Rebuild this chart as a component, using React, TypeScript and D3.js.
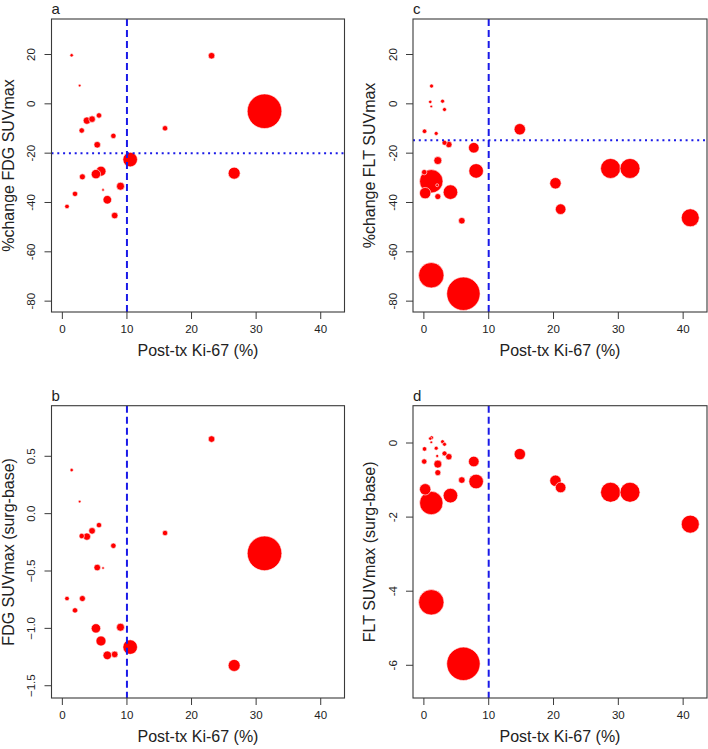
import React from "react";
import * as d3 from "d3";

// ---- FDG data (panels a, b) ----
const ki67Fdg = [1.44, 2.68, 23.1, 31.3, 15.9, 5.67, 3.8, 4.6, 3.0, 7.9, 5.4, 10.5, 26.6, 5.98, 5.2, 3.1, 6.3, 9.0, 1.96, 6.96, 0.72, 8.1];
const fdgPctChange = [19.7, 7.4, 19.5, -3.0, -9.9, -4.7, -6.8, -6.2, -10.8, -13.0, -16.6, -22.6, -28.1, -27.3, -28.5, -29.6, -34.9, -33.4, -36.5, -38.9, -41.6, -45.3];
const fdgSurgBase = [0.38, 0.105, 0.65, -0.346, -0.169, -0.10, -0.20, -0.15, -0.195, -0.28, -0.47, -1.163, -1.323, -1.11, -1.0, -0.74, -0.474, -0.99, -0.843, -1.235, -0.74, -1.227];
const fdgSize = [1.7, 1.3, 3.3, 17.3, 2.7, 2.7, 3.7, 3.3, 2.7, 2.7, 3.3, 7.3, 6.0, 5.0, 4.7, 3.0, 1.3, 4.0, 2.7, 4.3, 2.3, 3.3];

// ---- FLT data (panels c, d) ----
const ki67Flt = [1.18, 0.98, 1.14, 2.88, 3.18, 0.1, 1.9, 14.8, 3.18, 3.85, 7.7, 2.15, 8.06, 0.05, 1.14, 2.05, 0.2, 2.15, 4.1, 5.85, 20.3, 21.1, 28.8, 31.8, 41.1, 1.14, 6.1];
const fltPctChange = [7.2, 0.8, -1.07, 1.08, -2.3, -11.1, -12.0, -10.3, -15.8, -16.5, -17.8, -23.0, -27.2, -27.7, -31.4, -33.0, -36.2, -37.6, -35.8, -47.4, -32.2, -42.7, -26.2, -26.2, -46.2, -69.5, -77.0];
const fltSurgBase = [0.143, 0.12, 0.02, 0.035, -0.035, -0.16, -0.14, -0.3, -0.28, -0.37, -0.5, -0.57, -1.04, -0.5, -1.62, -0.35, -1.25, -0.8, -1.42, -1.0, -1.02, -1.2, -1.33, -1.33, -2.19, -4.3, -5.96];
const fltSize = [2.0, 1.7, 1.3, 2.0, 2.0, 2.3, 2.0, 5.7, 2.5, 3.2, 5.3, 4.0, 7.3, 2.7, 11.7, 1.5, 5.7, 3.0, 7.3, 3.3, 5.7, 5.3, 10, 10, 9, 12.7, 16.7];

// ---- ticks / labels ----
const xTicks = [0, 10, 20, 30, 40];
const pctTicks = [-80, -60, -40, -20, 0, 20];
const fdgDiffTicks = [-1.5, -1.0, -0.5, 0.0, 0.5];
const fltDiffTicks = [-6, -4, -2, 0];
const xLabel = "Post-tx Ki-67 (%)";
const ki67Cutoff = 10;
const fdgPctCutoff = -20;
const fltPctCutoff = -14.8;

const FONT = "'Liberation Sans', Arial, sans-serif";
const RED = "#ff0000";
const BLUE = "#1a1ae8";
const AXIS = "#3a3a3a";

type Panel = {
  letter: string;
  x0: number; x1: number; y0: number; y1: number;
  xs: number[]; ys: number[]; sizes: number[];
  yDomain: [number, number];
  yTicks: number[];
  yFmt: (v: number) => string;
  yLabel: string;
  hLine?: number;
};

const intFmt = (v: number) => String(v);
const oneFmt = d3.format(".1f");

const panels: Panel[] = [
  { letter: "a", x0: 51.5, x1: 344.5, y0: 19, y1: 312, xs: ki67Fdg, ys: fdgPctChange, sizes: fdgSize,
    yDomain: [-84.4, 34.4], yTicks: pctTicks, yFmt: intFmt, yLabel: "%change FDG SUVmax", hLine: fdgPctCutoff },
  { letter: "b", x0: 51.5, x1: 344.5, y0: 405.7, y1: 698, xs: ki67Fdg, ys: fdgSurgBase, sizes: fdgSize,
    yDomain: [-1.607, 0.941], yTicks: fdgDiffTicks, yFmt: (v) => oneFmt(v), yLabel: "FDG SUVmax (surg-base)" },
  { letter: "c", x0: 413, x1: 707, y0: 19, y1: 312, xs: ki67Flt, ys: fltPctChange, sizes: fltSize,
    yDomain: [-84.4, 34.4], yTicks: pctTicks, yFmt: intFmt, yLabel: "%change FLT SUVmax", hLine: fltPctCutoff },
  { letter: "d", x0: 413, x1: 707, y0: 405.7, y1: 698, xs: ki67Flt, ys: fltSurgBase, sizes: fltSize,
    yDomain: [-6.883, 1.007], yTicks: fltDiffTicks, yFmt: intFmt, yLabel: "FLT SUVmax (surg-base)" },
];

const rScale = d3.scaleLinear().domain([0, 1]).range([0, 1]);

function PanelView({ p }: { p: Panel }) {
  const x = d3.scaleLinear().domain([-1.68, 43.68]).range([p.x0, p.x1]);
  const y = d3.scaleLinear().domain(p.yDomain).range([p.y1, p.y0]);
  const pts = p.xs.map((xv, i) => ({ x: xv, y: p.ys[i], s: p.sizes[i] }));
  const order = d3.range(pts.length).sort((a, b) => pts[b].s - pts[a].s);
  const cx = (p.x0 + p.x1) / 2;
  const cy = (p.y0 + p.y1) / 2;
  return (
    <g>
      <defs>
        <clipPath id={`clip-${p.letter}`}>
          <rect x={p.x0} y={p.y0} width={p.x1 - p.x0} height={p.y1 - p.y0} />
        </clipPath>
      </defs>
      <g clipPath={`url(#clip-${p.letter})`}>
        {order.map((i) => (
          <circle key={i} cx={x(pts[i].x)} cy={y(pts[i].y)} r={rScale(pts[i].s)}
            fill={RED} stroke="#ffffff" strokeWidth={0.6} />
        ))}
        <line x1={x(ki67Cutoff)} x2={x(ki67Cutoff)} y1={p.y0} y2={p.y1}
          stroke={BLUE} strokeWidth={2} strokeDasharray="7,4" />
        {p.hLine !== undefined && (
          <line x1={p.x0} x2={p.x1} y1={y(p.hLine)} y2={y(p.hLine)}
            stroke={BLUE} strokeWidth={2} strokeDasharray="2,3.8" />
        )}
      </g>
      <rect x={p.x0} y={p.y0} width={p.x1 - p.x0} height={p.y1 - p.y0}
        fill="none" stroke={AXIS} strokeWidth={1.1} />
      {xTicks.map((t) => (
        <g key={`x${t}`}>
          <line x1={x(t)} x2={x(t)} y1={p.y1} y2={p.y1 + 7} stroke={AXIS} strokeWidth={1} />
          <text x={x(t)} y={p.y1 + 21} textAnchor="middle" fontSize={11.5} fontFamily={FONT} fill="#222">{t}</text>
        </g>
      ))}
      {p.yTicks.map((t) => (
        <g key={`y${t}`}>
          <line x1={p.x0 - 7} x2={p.x0} y1={y(t)} y2={y(t)} stroke={AXIS} strokeWidth={1} />
          <text transform={`translate(${p.x0 - 16.5},${y(t)}) rotate(-90)`} textAnchor="middle"
            fontSize={11.5} fontFamily={FONT} fill="#222">{p.yFmt(t)}</text>
        </g>
      ))}
      <text x={cx} y={p.y1 + 44} textAnchor="middle" fontSize={16} fontFamily={FONT} fill="#222">{xLabel}</text>
      <text transform={`translate(${p.x0 - 38},${cy}) rotate(-90)`} textAnchor="middle"
        fontSize={16} fontFamily={FONT} fill="#222">{p.yLabel}</text>
      <text x={p.x0} y={p.y0 - 5} fontSize={15} fontFamily={FONT} fill="#222">{p.letter}</text>
    </g>
  );
}

export default function App() {
  return (
    <svg width={708} height={749} style={{ position: "absolute", left: 0, top: 0, background: "#fff" }}>
      <rect x={0} y={0} width={708} height={749} fill="#fff" />
      {panels.map((p) => (
        <PanelView key={p.letter} p={p} />
      ))}
    </svg>
  );
}
